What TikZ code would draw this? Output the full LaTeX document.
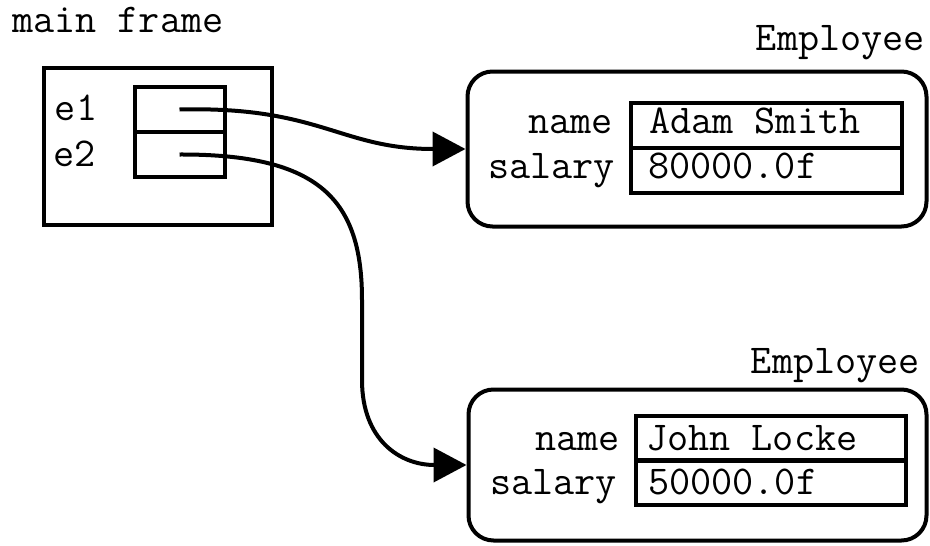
\documentclass[tikz,border=0pt]{standalone}
\usepackage{fontspec}
\usetikzlibrary{arrows.meta}
\begin{document}
\begin{tikzpicture}[x=1pt,y=-1pt,
  box/.style={draw=black, line width=4pt, inner sep=0pt},
  ebox/.style={box, rounded corners=25pt},
  lbl/.style={inner sep=0pt, font=\ttfamily\fontsize{41}{44}\selectfont},
  ptr/.style={line width=4pt, -{Triangle[length=33pt,width=34pt]}}]
\useasboundingbox (0,0) rectangle (930,546);
% main frame
\node[lbl, anchor=base west] (mf) at (12,32) {main frame};
\node[box, minimum width=228pt, minimum height=157pt] (frame) at (157.5,146) {};
\node[box, minimum width=90pt, minimum height=45pt] (c1) at (179.5,109.5) {};
\node[box, minimum width=90pt, minimum height=45pt] (c2) at (179.5,154.5) {};
\node[lbl, anchor=base] (e1) at (76,120) {e1};
\node[lbl, anchor=base] (e2) at (75,166) {e2};
% employee 1
\node[lbl, anchor=base east] (t1) at (925,50) {Employee};
\node[ebox, minimum width=459pt, minimum height=155pt] (emp1) at (697,149) {};
\node[box, minimum width=271pt, minimum height=45pt] (f1a) at (766,125.5) {};
\node[box, minimum width=271pt, minimum height=45pt] (f1b) at (766,170.5) {};
\node[lbl, anchor=base east] (n1) at (613,133) {name};
\node[lbl, anchor=base east] (s1) at (615,178) {salary};
\node[lbl, anchor=base west] (v1a) at (649,133) {Adam Smith};
\node[lbl, anchor=base west] (v1b) at (648,178) {80000.0f};
% employee 2
\node[lbl, anchor=base east] (t2) at (920,373) {Employee};
\node[ebox, minimum width=458pt, minimum height=151pt] (emp2) at (697.5,465) {};
\node[box, minimum width=270pt, minimum height=45pt] (f2a) at (770.5,438) {};
\node[box, minimum width=270pt, minimum height=45pt] (f2b) at (770.5,482.5) {};
\node[lbl, anchor=base east] (n2) at (620,450) {name};
\node[lbl, anchor=base east] (s2) at (617,494) {salary};
\node[lbl, anchor=base west] (v2a) at (646,450) {John Locke};
\node[lbl, anchor=base west] (v2b) at (648,494) {50000.0f};
% pointers
\draw[ptr] (c1.center) .. controls (320,106) and (340,149) .. (emp1.west);
\draw[ptr] (c2.center) .. controls (320,154) and (362,200) .. (362,300)
  -- (362,380) .. controls (362,440) and (400,465) .. (emp2.west);
\end{tikzpicture}
\end{document}
